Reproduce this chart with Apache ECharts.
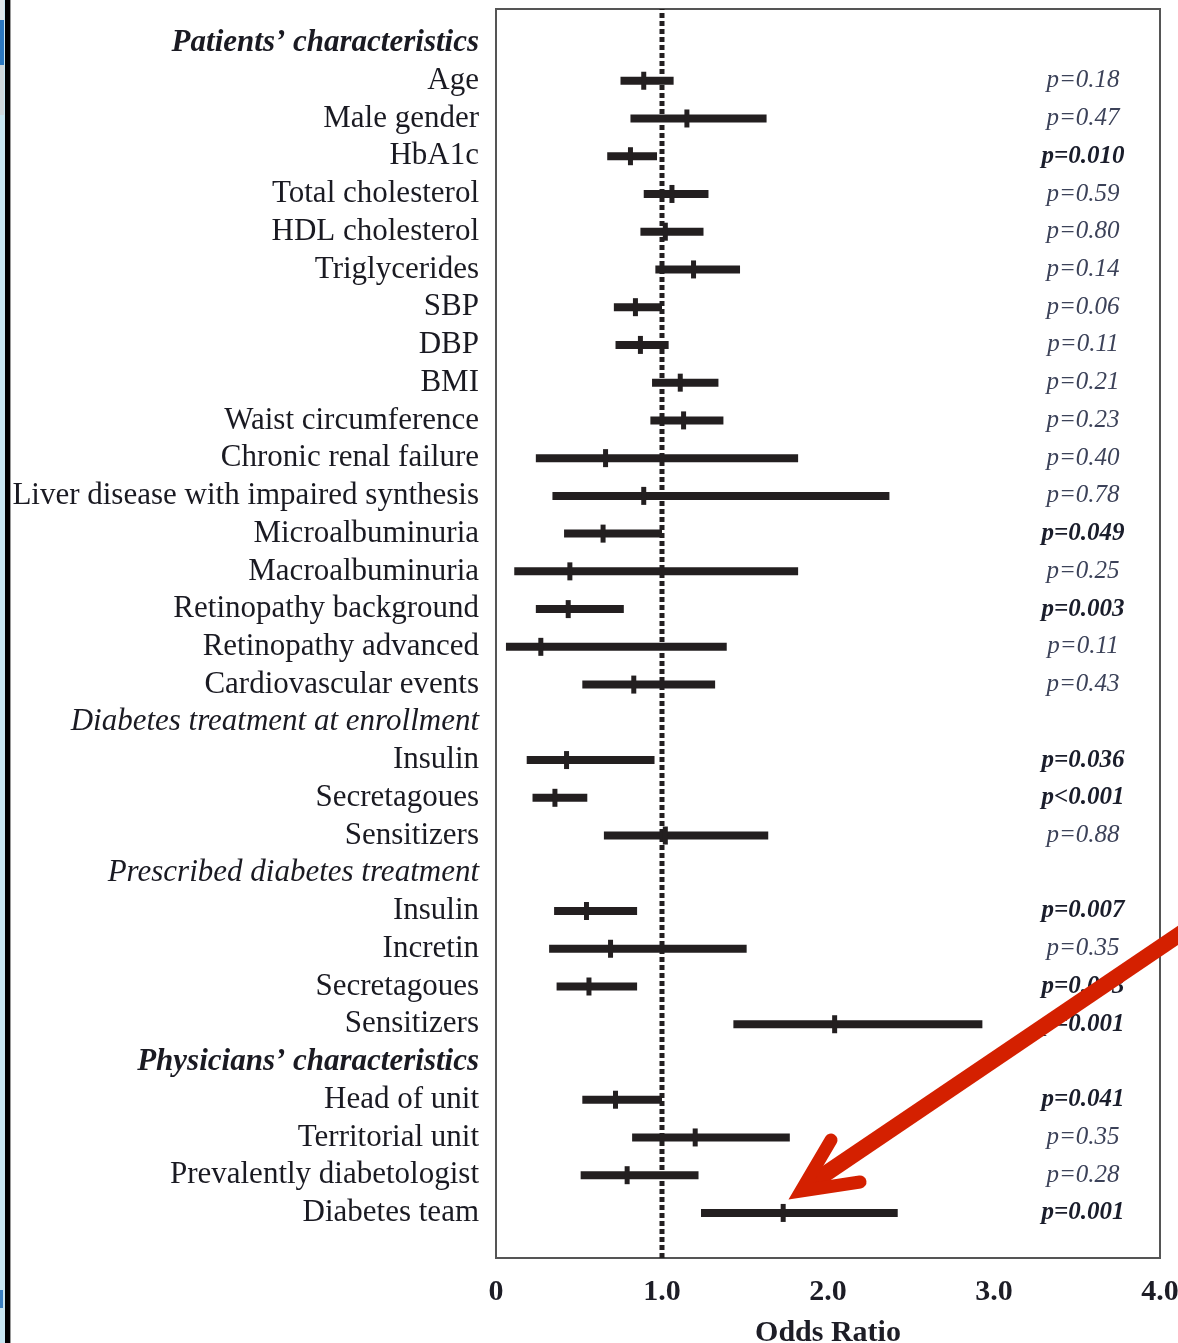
<!DOCTYPE html>
<html>
<head>
<meta charset="utf-8">
<script src="https://cdn.jsdelivr.net/npm/echarts@6/dist/echarts.min.js"></script>
<style>
html,body{margin:0;padding:0;background:#fff;}
#chart{width:1178px;height:1343px;}
</style>
</head>
<body>
<div id="chart"></div>
<script>
// ---- data ----
const rowLabels = [
  "Patients’ characteristics", "Age", "Male gender", "HbA1c", "Total cholesterol", "HDL cholesterol",
  "Triglycerides", "SBP", "DBP", "BMI", "Waist circumference", "Chronic renal failure",
  "Liver disease with impaired synthesis", "Microalbuminuria", "Macroalbuminuria",
  "Retinopathy background", "Retinopathy advanced", "Cardiovascular events",
  "Diabetes treatment at enrollment", "Insulin", "Secretagoues", "Sensitizers",
  "Prescribed diabetes treatment", "Insulin", "Incretin", "Secretagoues", "Sensitizers",
  "Physicians’ characteristics", "Head of unit", "Territorial unit", "Prevalently diabetologist", "Diabetes team"
];
// row kind: 'h1' bold-italic header, 'h2' italic header, '' = variable
const rowKinds = ['h1','','','','','','','','','','','','','','','','','','h2','','','','h2','','','','','h1','','','',''];
// odds ratios (null for header rows)
const orEstimate = [null,0.89,1.15,0.81,1.06,1.02,1.19,0.84,0.87,1.11,1.13,0.66,0.89,0.645,0.445,0.435,0.27,0.83,
  null,0.425,0.355,1.02, null,0.545,0.69,0.56,2.04, null,0.72,1.20,0.79,1.73];
const ciLower = [null,0.75,0.81,0.67,0.89,0.87,0.96,0.71,0.72,0.94,0.93,0.24,0.34,0.41,0.11,0.24,0.06,0.52,
  null,0.185,0.22,0.65, null,0.35,0.32,0.365,1.43, null,0.52,0.82,0.51,1.235];
const ciUpper = [null,1.07,1.63,0.97,1.28,1.25,1.47,1.00,1.04,1.34,1.37,1.82,2.37,1.00,1.82,0.77,1.39,1.32,
  null,0.955,0.55,1.64, null,0.85,1.51,0.85,2.93, null,1.00,1.77,1.22,2.42];
const pValues = [null,"p=0.18","p=0.47","p=0.010","p=0.59","p=0.80","p=0.14","p=0.06","p=0.11","p=0.21","p=0.23",
  "p=0.40","p=0.78","p=0.049","p=0.25","p=0.003","p=0.11","p=0.43",
  null,"p=0.036","p<0.001","p=0.88", null,"p=0.007","p=0.35","p=0.003","p=0.001",
  null,"p=0.041","p=0.35","p=0.28","p=0.001"];
const pBold = [false,false,false,true,false,false,false,false,false,false,false,false,false,true,false,true,false,false,
  false,true,true,false, false,true,false,true,true, false,true,false,false,true];
const xTicks = [0, 1, 2, 3, 4];
const xTickLabels = ["0", "1.0", "2.0", "3.0", "4.0"];
const referenceOR = 1.0;

// ---- chart ----
const SERIF = '"Liberation Serif","Times New Roman",serif';
const INK = '#231f20';
const chart = echarts.init(document.getElementById('chart'));

const catData = rowLabels.map((t, i) => {
  const k = rowKinds[i];
  return {
    value: t + '#' + i,
    textStyle: {
      fontStyle: k ? 'italic' : 'normal',
      fontWeight: k === 'h1' ? 'bold' : 'normal'
    }
  };
});

const ciData = [];
rowLabels.forEach((t, i) => {
  if (orEstimate[i] != null) ciData.push([i, ciLower[i], ciUpper[i], orEstimate[i]]);
});
const pData = [];
rowLabels.forEach((t, i) => { if (pValues[i]) pData.push([i, 4]); });

const rowH = 37.74;
const nRows = rowLabels.length;

chart.setOption({
  animation: false,
  backgroundColor: '#ffffff',
  grid: [
    { left: 496, width: 664, top: 43 - rowH / 2, height: rowH * nRows, show: false, outerBoundsMode: 'none', containLabel: false },
    { left: 496, width: 664, top: 9, height: 1249, show: true, borderColor: '#555555', borderWidth: 2,
      backgroundColor: 'transparent', outerBoundsMode: 'none', containLabel: false }
  ],
  xAxis: [
    { gridIndex: 0, type: 'value', min: 0, max: 4, show: false },
    { gridIndex: 1, type: 'value', min: 0, max: 4, interval: 1,
      axisLine: { show: false }, axisTick: { show: false }, splitLine: { show: false },
      axisLabel: { margin: 19, fontFamily: SERIF, fontSize: 30, fontWeight: 'bold', color: '#1d1d26',
        formatter: v => xTickLabels[xTicks.indexOf(v)] },
      name: 'Odds Ratio', nameLocation: 'middle', nameGap: 60,
      nameTextStyle: { fontFamily: SERIF, fontSize: 30, fontWeight: 'bold', color: '#1d1d26' }
    }
  ],
  yAxis: [
    { gridIndex: 0, type: 'category', inverse: true, data: catData,
      axisLine: { show: false }, axisTick: { show: false }, splitLine: { show: false },
      axisLabel: { margin: 17, interval: 0, fontFamily: SERIF, fontSize: 31, color: '#1a1a22',
        formatter: v => v.split('#')[0] } },
    { gridIndex: 1, type: 'value', min: 0, max: 1, show: false }
  ],
  series: [
    { type: 'line', xAxisIndex: 1, yAxisIndex: 1, silent: true, symbol: 'none', z: 1,
      data: [[referenceOR, 0], [referenceOR, 1]],
      lineStyle: { color: INK, width: 5, type: [5, 3], cap: 'butt' } },
    { type: 'custom', xAxisIndex: 0, yAxisIndex: 0, z: 3, silent: true,
      data: ciData, encode: { x: [1, 2, 3], y: 0 },
      renderItem: (params, api) => {
        const i = api.value(0);
        const a = api.coord([api.value(1), i]);
        const b = api.coord([api.value(2), i]);
        const c = api.coord([api.value(3), i]);
        return { type: 'group', children: [
          { type: 'rect', shape: { x: a[0], y: a[1] - 4, width: b[0] - a[0], height: 8 }, style: { fill: INK } },
          { type: 'rect', shape: { x: c[0] - 2.5, y: c[1] - 9, width: 5, height: 18 }, style: { fill: INK } }
        ]};
      } },
    { type: 'custom', xAxisIndex: 0, yAxisIndex: 0, z: 3, silent: true,
      data: pData, encode: { x: 1, y: 0 },
      renderItem: (params, api) => {
        const i = api.value(0);
        const p = api.coord([api.value(1), i]);
        const bold = pBold[i];
        return { type: 'text', x: p[0] - 77, y: p[1],
          style: { text: pValues[i], align: 'center', verticalAlign: 'middle',
            fontFamily: SERIF, fontSize: 25, fontStyle: 'italic', fontWeight: bold ? 'bold' : 'normal',
            fill: bold ? '#1a1d2b' : '#3c4259' } };
      } }
  ],
  graphic: [
    { type: 'rect', left: 0, top: 0, shape: { width: 5, height: 1343 }, style: { fill: '#c8e7f2' }, z: 10 },
    { type: 'rect', left: 0, top: 0, shape: { width: 4, height: 20 }, style: { fill: '#dfe7ea' }, z: 11 },
    { type: 'rect', left: 0, top: 20, shape: { width: 4, height: 45 }, style: { fill: '#2b78c0' }, z: 11 },
    { type: 'rect', left: 0, top: 65, shape: { width: 4, height: 50 }, style: { fill: '#cfd8dc' }, z: 11 },
    { type: 'rect', left: 0, top: 1290, shape: { width: 3, height: 18 }, style: { fill: '#3a7fc0' }, z: 11 },
    { type: 'rect', left: 5, top: 0, shape: { width: 5, height: 1343 }, style: { fill: '#000000' }, z: 10 },
    { type: 'rect', left: 10, top: 0, shape: { width: 1, height: 1343 }, style: { fill: '#9a9a9a' }, z: 10 },
    // red annotation arrow
    { type: 'polyline', z: 20, silent: true,
      shape: { points: [[1192, 926], [806, 1187]] },
      style: { stroke: '#d42000', lineWidth: 16, fill: null, lineCap: 'butt' } },
    { type: 'polyline', z: 20, silent: true,
      shape: { points: [[831, 1140], [801, 1191], [860, 1182]] },
      style: { stroke: '#d42000', lineWidth: 13, fill: null, lineCap: 'round', lineJoin: 'miter' } }
  ]
});
</script>
</body>
</html>
